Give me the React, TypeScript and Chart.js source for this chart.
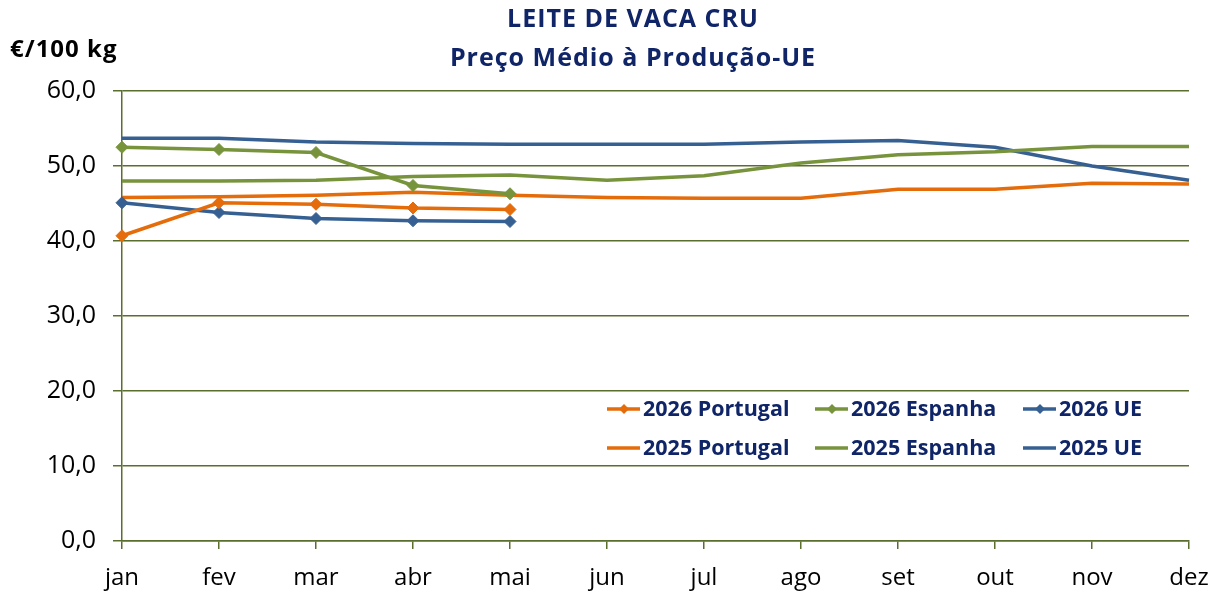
import React, { useEffect, useRef } from "react";
import { Chart, registerables } from "chart.js";

Chart.register(...registerables);

const months = ["jan", "fev", "mar", "abr", "mai", "jun", "jul", "ago", "set", "out", "nov", "dez"];

const pt2025: number[] = [45.8, 45.9, 46.1, 46.5, 46.1, 45.8, 45.7, 45.7, 46.9, 46.9, 47.7, 47.6];
const es2025: number[] = [48.0, 48.0, 48.1, 48.6, 48.8, 48.1, 48.7, 50.4, 51.5, 51.9, 52.6, 52.6];
const ue2025: number[] = [53.7, 53.7, 53.2, 53.0, 52.9, 52.9, 52.9, 53.2, 53.4, 52.5, 50.0, 48.1];

const pt2026: (number | null)[] = [40.7, 45.1, 44.9, 44.4, 44.2, null, null, null, null, null, null, null];
const es2026: (number | null)[] = [52.5, 52.2, 51.8, 47.4, 46.3, null, null, null, null, null, null, null];
const ue2026: (number | null)[] = [45.1, 43.8, 43.0, 42.7, 42.6, null, null, null, null, null, null, null];

const titleLines = ["LEITE DE VACA CRU", "Preço Médio à Produção-UE"];
const unitLabel = "€/100 kg";

const ORANGE = "#E46C0A";
const GREEN = "#77933C";
const BLUE = "#376092";
const NAVY = "#0F2567";
const OLIVE = "#5A6E2E";
const FONT = "'Open Sans', sans-serif";

const legendItems = [
  { label: "2026 Portugal", color: ORANGE, marker: true },
  { label: "2026 Espanha", color: GREEN, marker: true },
  { label: "2026 UE", color: BLUE, marker: true },
  { label: "2025 Portugal", color: ORANGE, marker: false },
  { label: "2025 Espanha", color: GREEN, marker: false },
  { label: "2025 UE", color: BLUE, marker: false },
];

const decorPlugin = {
  id: "decor",
  afterDraw(chart: any) {
    const ctx = chart.ctx as CanvasRenderingContext2D;
    ctx.save();
    // title
    ctx.fillStyle = NAVY;
    ctx.textAlign = "center";
    ctx.textBaseline = "alphabetic";
    (ctx as any).letterSpacing = "1px";
    ctx.font = `bold 25px ${FONT}`;
    ctx.fillText(titleLines[0], 633, 27);
    ctx.fillText(titleLines[1], 633, 66);
    // unit
    ctx.fillStyle = "#000000";
    ctx.textAlign = "left";
    ctx.font = `bold 24px ${FONT}`;
    ctx.fillText(unitLabel, 10, 57);
    // legend
    (ctx as any).letterSpacing = "0px";
    ctx.font = `bold 21.5px ${FONT}`;
    ctx.textBaseline = "middle";
    const colX = [607, 815, 1023];
    const rowY = [409, 448];
    legendItems.forEach((it, i) => {
      const cx = colX[i % 3];
      const cy = rowY[Math.floor(i / 3)];
      ctx.strokeStyle = it.color;
      ctx.lineWidth = 3.5;
      ctx.beginPath();
      ctx.moveTo(cx, cy);
      ctx.lineTo(cx + 33, cy);
      ctx.stroke();
      if (it.marker) {
        const mx = cx + 17;
        ctx.fillStyle = it.color;
        ctx.beginPath();
        ctx.moveTo(mx, cy - 5);
        ctx.lineTo(mx + 5, cy);
        ctx.lineTo(mx, cy + 5);
        ctx.lineTo(mx - 5, cy);
        ctx.closePath();
        ctx.fill();
      }
      ctx.fillStyle = NAVY;
      ctx.textAlign = "left";
      ctx.fillText(it.label, cx + 36, cy + 1);
    });
    ctx.restore();
  },
};

function lineDs(label: string, data: (number | null)[], color: string, marker: boolean) {
  return {
    label,
    data,
    borderColor: color,
    backgroundColor: color,
    borderWidth: 3.5,
    pointStyle: "rectRot",
    pointRadius: marker ? 6 : 0,
    pointHoverRadius: marker ? 6 : 0,
    pointBorderWidth: 1,
    pointBackgroundColor: color,
    pointBorderColor: color,
    tension: 0,
    spanGaps: false,
    order: marker ? 0 : 1,
  };
}

export default function App() {
  const ref = useRef<HTMLCanvasElement>(null);
  useEffect(() => {
    document.body.style.margin = "0";
    if (!ref.current) return;
    const chart = new Chart(ref.current, {
      type: "line",
      data: {
        labels: months,
        datasets: [
          lineDs("2026 Portugal", pt2026, ORANGE, true),
          lineDs("2026 Espanha", es2026, GREEN, true),
          lineDs("2026 UE", ue2026, BLUE, true),
          lineDs("2025 Portugal", pt2025, ORANGE, false),
          lineDs("2025 Espanha", es2025, GREEN, false),
          lineDs("2025 UE", ue2025, BLUE, false),
        ] as any,
      },
      options: {
        animation: false,
        responsive: false,
        devicePixelRatio: 1,
        layout: { padding: { top: 91, right: 31, left: 0, bottom: 0 } },
        plugins: {
          legend: { display: false },
          title: { display: false },
          tooltip: { enabled: false },
        },
        scales: {
          x: {
            offset: false,
            grid: {
              display: true,
              drawOnChartArea: false,
              drawTicks: true,
              tickLength: 8,
              color: OLIVE,
              lineWidth: 1.5,
            },
            border: { display: true, color: OLIVE, width: 1.5 },
            ticks: {
              color: "#000000",
              font: { family: FONT, size: 24 },
              padding: 15,
              maxRotation: 0,
              autoSkip: false,
            },
            afterFit: (scale: any) => {
              scale.height = 55;
              scale.paddingLeft = 0;
              scale.paddingRight = 0;
            },
          },
          y: {
            min: 0,
            max: 60,
            grid: {
              color: OLIVE,
              lineWidth: 1.5,
              drawTicks: true,
              tickLength: 9,
            },
            border: { display: true, color: OLIVE, width: 1.5 },
            ticks: {
              stepSize: 10,
              color: "#000000",
              font: { family: FONT, size: 25 },
              padding: 17,
              callback: (v: any) => Number(v).toFixed(1).replace(".", ","),
            },
            afterFit: (scale: any) => {
              scale.width = 122;
              scale.paddingTop = 0;
              scale.paddingBottom = 0;
            },
          },
        },
      } as any,
      plugins: [decorPlugin],
    });
    return () => chart.destroy();
  }, []);
  return (
    <div style={{ width: 1220, height: 596 }}>
      <canvas ref={ref} width={1220} height={596} style={{ display: "block" }} />
    </div>
  );
}
